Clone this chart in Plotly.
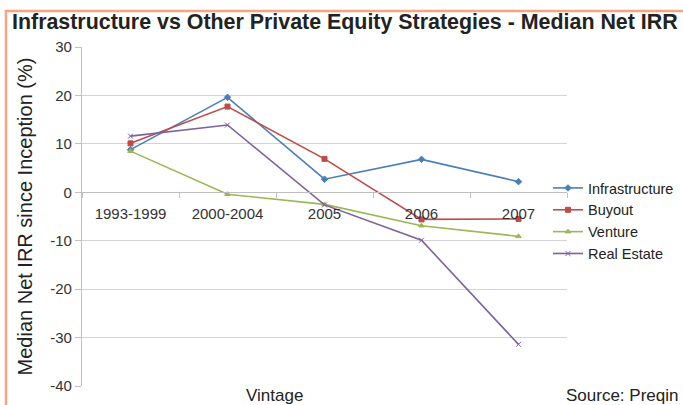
import plotly.graph_objects as go

categories = ["1993-1999", "2000-2004", "2005", "2006", "2007"]
infrastructure = [8.8, 19.6, 2.7, 6.8, 2.2]
buyout = [10.1, 17.7, 6.9, -5.6, -5.5]
venture = [8.5, -0.4, -2.5, -6.9, -9.1]
real_estate = [11.6, 13.9, -2.6, -9.9, -31.4]
y_ticks = [30, 20, 10, 0, -10, -20, -30, -40]
y_tick_labels = ["30", "20", "10", "0", "-10", "-20", "-30", "-40"]

series = [
    ("Infrastructure", infrastructure, "#4A7EBB", "diamond"),
    ("Buyout", buyout, "#BE4B48", "square"),
    ("Venture", venture, "#98B954", "triangle-up"),
    ("Real Estate", real_estate, "#7D60A0", "x-thin-open"),
]

W, H = 683, 405
L, R, T, B = 82, 116, 47, 19
PW, PH = W - L - R, H - T - B


def px_x(x):
    return (x - L) / PW


def px_y(y):
    return (H - B - y) / PH


fig = go.Figure()
for name, vals, color, sym in series:
    fig.add_trace(go.Scatter(
        x=categories, y=vals, name=name, mode="lines+markers",
        line=dict(color=color, width=1.6),
        marker=dict(color=color, size=5, symbol=sym, line=dict(color=color, width=1)),
    ))

font = "Liberation Sans"
fig.update_layout(
    width=W, height=H,
    margin=dict(l=L, r=R, t=T, b=B, autoexpand=False),
    paper_bgcolor="white", plot_bgcolor="white",
    font=dict(family=font, color="#333333", size=15),
    title=dict(
        text="<b>Infrastructure vs Other Private Equity Strategies - Median Net IRR</b>",
        xref="container", x=12 / W, xanchor="left",
        yref="container", y=1 - 22 / H, yanchor="middle",
        font=dict(size=21.4, color="#222222", family=font),
    ),
    xaxis=dict(
        type="category", range=[-0.5, 4.5],
        anchor="free", position=40 / 70,
        showline=True, linecolor="#BFBFBF", linewidth=1.3,
        ticks="outside", ticklen=5, tickcolor="#BFBFBF", tickson="boundaries",
        showgrid=False, ticklabelstandoff=8,
        tickfont=dict(size=15, color="#333333", family=font),
    ),
    yaxis=dict(
        range=[-40, 30], tickvals=y_ticks, ticktext=y_tick_labels,
        showline=True, linecolor="#BFBFBF", linewidth=1.3,
        ticks="outside", ticklen=6, tickcolor="#BFBFBF",
        showgrid=True, gridcolor="#D4D4D4", gridwidth=1.3,
        zeroline=False,
        tickfont=dict(size=15, color="#333333", family=font),
        title=dict(text="Median Net IRR since Inception (%)",
                   font=dict(size=20, color="#222222", family=font), standoff=12),
    ),
    legend=dict(
        x=px_x(548), xanchor="left", y=px_y(172), yanchor="top",
        bgcolor="rgba(0,0,0,0)", font=dict(size=14.5, color="#222222", family=font),
        tracegroupgap=0, itemwidth=30,
    ),
    showlegend=True,
)

fig.add_annotation(text="Vintage", xref="paper", yref="paper", x=px_x(274), y=px_y(395),
                   xanchor="center", yanchor="middle", showarrow=False,
                   font=dict(size=17, color="#222222", family=font))
fig.add_annotation(text="Source: Preqin", xref="paper", yref="paper", x=px_x(680), y=px_y(395),
                   xanchor="right", yanchor="middle", showarrow=False,
                   font=dict(size=17, color="#222222", family=font))

border = "#F7A57E"
fig.add_shape(type="line", xref="paper", yref="paper", x0=px_x(5), x1=px_x(683),
              y0=px_y(11), y1=px_y(11), line=dict(color=border, width=2.5))
fig.add_shape(type="line", xref="paper", yref="paper", x0=px_x(6), x1=px_x(6),
              y0=px_y(10), y1=px_y(405), line=dict(color=border, width=2.5))

fig.write_html("out.html")
